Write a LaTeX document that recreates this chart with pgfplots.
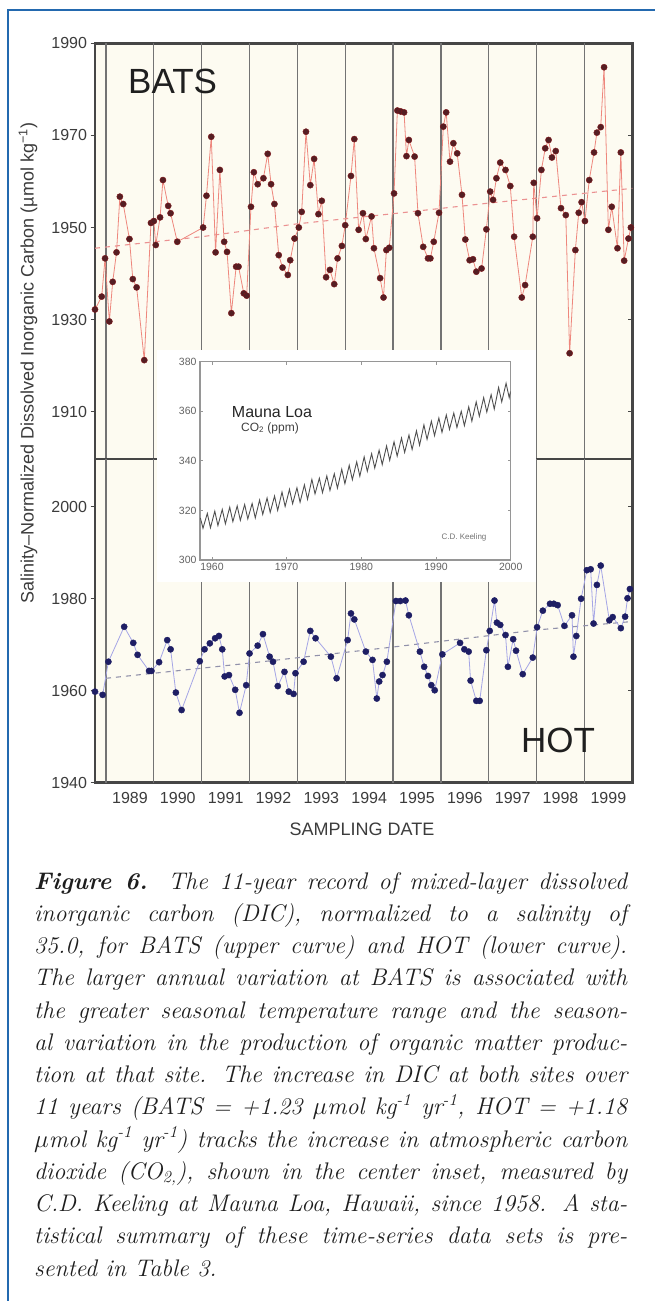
\documentclass[border=0pt]{standalone}
\usepackage{pgfplots}
\pgfplotsset{compat=1.18}
\usepackage{fontspec}
\setsansfont{Liberation Sans}
\definecolor{framecol}{RGB}{70,70,70}
\definecolor{yearline}{RGB}{115,115,115}
\definecolor{cream}{RGB}{253,251,241}
\definecolor{labcol}{RGB}{60,60,60}
\definecolor{borderblue}{RGB}{35,105,175}
\definecolor{batsdot}{RGB}{85,30,35}
\definecolor{batsline}{RGB}{238,135,125}
\definecolor{batstrend}{RGB}{235,145,145}
\definecolor{hotdot}{RGB}{30,30,100}
\definecolor{hotline}{RGB}{165,165,230}
\definecolor{hottrend}{RGB}{145,145,170}
\definecolor{insetgrey}{RGB}{150,150,150}
\definecolor{co2col}{RGB}{80,80,80}
\definecolor{captext}{RGB}{30,30,30}

\pgfplotsset{
  mainax/.style={
    scale only axis, width=537.3pt, xmin=1988.77, xmax=2000,
    axis line style={draw=framecol, line width=2.5pt},
    axis background/.style={fill=cream},
    tick align=outside, ytick pos=left, xtick pos=bottom, major tick length=4.5pt,
    tick style={draw=framecol, line width=1.2pt},
    major x tick style=transparent,
    yticklabel style={font=\sffamily\fontsize{16}{16}\selectfont, text=labcol},
    xticklabel style={font=\sffamily\fontsize{16}{16}\selectfont, text=labcol, yshift=-2pt},
  },
}
\tikzset{yearlines/.style={draw=yearline, line width=1.3pt}}

\newcommand{\caprow}[2]{\node[anchor=base west, inner sep=0pt, text=captext] at (34pt,-#1pt) {\fontsize{24}{24}\selectfont\itshape\makebox[593pt][s]{#2}};}

\begin{document}
\begin{tikzpicture}
\path[use as bounding box, fill=white] (0pt,0pt) rectangle (654pt,-1301pt);
\draw[borderblue, line width=2.5pt] (8pt,-1302pt) -- (8pt,-10pt) -- (655pt,-10pt);

% ---------------- BATS (upper) ----------------
\begin{axis}[mainax, at={(95pt,-459pt)}, anchor=south west,
  height=415.7pt, ymin=1899.73, ymax=1990,
  ytick={1910,1930,1950,1970,1990}, yticklabels={1910,1930,1950,1970,1990},
  xtick=\empty]
\pgfplotsinvokeforeach{1989,...,1999}{\draw[yearlines] (axis cs:#1,1899.73) -- (axis cs:#1,1990);}
\addplot[batstrend, line width=1.1pt, dash pattern=on 5pt off 5pt] coordinates {
(1988.77,1945.5) (1991,1948.0) (1993,1950.8) (1995,1953.0) (1997,1955.3) (2000,1958.5)};
\addplot[batsline, line width=0.8pt, mark=*, mark size=3.1pt,
  mark options={fill=batsdot, draw=batsdot!75!red, line width=0.4pt, solid}] coordinates {
(1988.77,1932.2) (1988.91,1935.0) (1988.98,1943.3) (1989.07,1929.6) (1989.14,1938.2)
(1989.22,1944.6) (1989.29,1956.7) (1989.36,1955.1) (1989.49,1947.5) (1989.56,1938.8)
(1989.64,1937.0) (1989.80,1921.2) (1989.94,1951.0) (1990.00,1951.4) (1990.04,1946.2)
(1990.13,1952.2) (1990.19,1960.3) (1990.30,1954.7) (1990.35,1953.1) (1990.49,1946.9)
(1991.03,1950.0) (1991.10,1956.9) (1991.20,1969.7) (1991.29,1944.6) (1991.38,1962.5)
(1991.47,1946.9) (1991.53,1944.7) (1991.62,1931.4) (1991.72,1941.5) (1991.77,1941.5)
(1991.88,1935.7) (1991.94,1935.2) (1992.03,1954.5) (1992.09,1962.0) (1992.17,1959.4)
(1992.29,1960.7) (1992.38,1966.0) (1992.45,1959.4) (1992.52,1955.1) (1992.61,1944.0)
(1992.69,1941.3) (1992.80,1939.7) (1992.85,1942.9) (1992.94,1947.6) (1993.03,1950.0)
(1993.09,1953.4) (1993.18,1970.8) (1993.27,1959.2) (1993.35,1964.9) (1993.44,1952.9)
(1993.51,1955.8) (1993.60,1939.2) (1993.68,1940.8) (1993.77,1937.7) (1993.84,1943.3)
(1993.93,1946.0) (1994.00,1950.5) (1994.12,1961.2) (1994.19,1969.2) (1994.28,1949.5)
(1994.37,1953.1) (1994.43,1947.5) (1994.55,1952.4) (1994.60,1945.5) (1994.73,1939.0)
(1994.80,1934.8) (1994.86,1945.1) (1994.92,1945.6) (1995.02,1957.4) (1995.09,1975.4)
(1995.16,1975.2) (1995.23,1975.0) (1995.28,1965.5) (1995.33,1969.0) (1995.45,1965.4)
(1995.52,1953.1) (1995.63,1945.8) (1995.73,1943.3) (1995.78,1943.3) (1995.85,1946.9)
(1995.96,1953.2) (1996.05,1971.9) (1996.11,1975.0) (1996.19,1964.3) (1996.26,1968.3)
(1996.34,1966.1) (1996.44,1957.1) (1996.51,1947.4) (1996.60,1942.9) (1996.67,1943.1)
(1996.74,1940.4) (1996.85,1941.1) (1996.95,1949.6) (1997.03,1957.8) (1997.09,1956.0)
(1997.16,1960.7) (1997.24,1964.1) (1997.35,1962.5) (1997.45,1959.0) (1997.53,1948.0)
(1997.69,1934.8) (1997.76,1937.5) (1997.92,1948.0) (1997.94,1959.7) (1998.01,1952.0)
(1998.10,1962.5) (1998.18,1967.2) (1998.25,1969.0) (1998.32,1965.2) (1998.40,1966.6)
(1998.51,1954.2) (1998.61,1952.7) (1998.69,1922.7) (1998.81,1945.1) (1998.88,1953.2)
(1998.94,1955.5) (1999.01,1951.4) (1999.10,1960.3) (1999.20,1966.3) (1999.26,1970.6)
(1999.34,1971.8) (1999.41,1984.8) (1999.50,1949.5) (1999.57,1954.5) (1999.69,1945.5)
(1999.76,1966.3) (1999.83,1942.8) (1999.92,1947.6) (1999.97,1950.0)};
\pgfplotsinvokeforeach{1910,1930,1950,1970}{\draw[framecol, line width=1.2pt] (axis cs:2000,#1) -- ++(-4.5pt,0pt);}
\end{axis}

% ---------------- HOT (lower) ----------------
\begin{axis}[mainax, at={(95pt,-782.7pt)}, anchor=south west,
  height=323.7pt, ymin=1940, ymax=2010.37,
  ytick={1940,1960,1980,2000}, yticklabels={1940,1960,1980,2000},
  xtick={1989.5,1990.5,1991.5,1992.5,1993.5,1994.5,1995.5,1996.5,1997.5,1998.5,1999.5},
  xticklabels={1989,1990,1991,1992,1993,1994,1995,1996,1997,1998,1999}]
\pgfplotsinvokeforeach{1989,...,1999}{\draw[yearlines] (axis cs:#1,1940) -- (axis cs:#1,2010.37);}
\addplot[hottrend, line width=1.1pt, dash pattern=on 5pt off 5pt] coordinates {
(1989.0,1962.7) (1992,1966.0) (1995,1969.5) (1998,1973.2) (1999.95,1975.0)};
\addplot[hotline, line width=0.8pt, mark=*, mark size=3.1pt,
  mark options={fill=hotdot, draw=hotdot, line width=0.4pt, solid}] coordinates {
(1988.77,1959.8) (1988.93,1959.1) (1989.05,1966.3) (1989.38,1973.9) (1989.57,1970.4)
(1989.66,1967.8) (1989.90,1964.3) (1989.95,1964.3) (1990.11,1966.2) (1990.28,1971.0)
(1990.35,1969.0) (1990.46,1959.6) (1990.58,1955.8) (1990.96,1966.4) (1991.06,1969.0)
(1991.17,1970.3) (1991.28,1971.4) (1991.36,1971.9) (1991.43,1969.0) (1991.48,1963.1)
(1991.57,1963.4) (1991.70,1960.2) (1991.79,1955.2) (1991.93,1961.2) (1992.00,1968.1)
(1992.17,1969.8) (1992.28,1972.3) (1992.42,1967.4) (1992.49,1966.3) (1992.59,1961.0)
(1992.73,1964.1) (1992.82,1959.8) (1992.92,1959.3) (1992.96,1963.8) (1993.13,1966.3)
(1993.27,1973.0) (1993.38,1971.4) (1993.70,1967.4) (1993.82,1962.7) (1994.05,1971.0)
(1994.12,1976.8) (1994.19,1975.5) (1994.43,1968.5) (1994.57,1966.7) (1994.66,1958.3)
(1994.71,1962.0) (1994.78,1963.4) (1994.87,1966.3) (1995.06,1979.5) (1995.15,1979.5)
(1995.26,1979.6) (1995.33,1976.4) (1995.56,1968.5) (1995.65,1965.2) (1995.73,1963.2)
(1995.80,1961.2) (1995.87,1960.1) (1996.03,1967.9) (1996.40,1970.4) (1996.49,1969.0)
(1996.58,1968.5) (1996.62,1962.2) (1996.74,1957.8) (1996.81,1957.8) (1996.95,1968.8)
(1997.02,1973.0) (1997.12,1979.6) (1997.17,1974.8) (1997.24,1974.3) (1997.35,1972.1)
(1997.40,1965.2) (1997.51,1971.2) (1997.57,1968.7) (1997.71,1963.6) (1997.92,1967.2)
(1998.01,1973.8) (1998.13,1977.4) (1998.28,1978.9) (1998.36,1978.9) (1998.44,1978.6)
(1998.58,1974.1) (1998.74,1976.4) (1998.77,1967.4) (1998.83,1971.9) (1998.93,1980.0)
(1999.05,1986.2) (1999.13,1986.4) (1999.19,1974.6) (1999.26,1983.0) (1999.34,1987.2)
(1999.52,1975.3) (1999.59,1976.0) (1999.76,1973.6) (1999.85,1976.1) (1999.90,1980.1)
(1999.95,1982.1)};
\pgfplotsinvokeforeach{1960,1980,2000}{\draw[framecol, line width=1.2pt] (axis cs:2000,#1) -- ++(-4.5pt,0pt);}
\end{axis}

% ---------------- inset ----------------
\fill[white] (157pt,-350pt) rectangle (536pt,-582pt);
\begin{axis}[at={(200pt,-560pt)}, anchor=south west, scale only axis,
  width=310.7pt, height=198.3pt, xmin=1958.4, xmax=2000, ymin=300, ymax=380,
  axis line style={draw=insetgrey, line width=1.2pt},
  xtick={1960,1970,1980,1990,2000}, ytick={300,320,340,360,380},
  xticklabels={1960,1970,1980,1990,2000}, yticklabels={300,320,340,360,380},
  tick align=inside, major tick length=3pt, tick style={draw=insetgrey, line width=0.8pt},
  ticklabel style={font=\sffamily\fontsize{10.5}{10.5}\selectfont, text=labcol!80}]
\addplot[co2col, line width=0.9pt] coordinates {
(1958.45,317.0) (1958.80,312.8)
(1959.38,318.8) (1959.80,313.0) (1960.38,319.7) (1960.80,313.9) (1961.38,320.4) (1961.80,314.6)
(1962.38,321.3) (1962.80,315.5) (1963.38,321.8) (1963.80,316.0) (1964.38,322.4) (1964.80,316.6)
(1965.38,322.8) (1965.80,317.0) (1966.38,324.2) (1966.80,318.4) (1967.38,325.0) (1967.80,319.2)
(1968.38,325.8) (1968.80,320.0) (1969.38,327.4) (1969.80,321.6) (1970.38,328.5) (1970.80,322.7)
(1971.38,329.1) (1971.80,323.3) (1972.38,330.3) (1972.80,324.5) (1973.38,332.5) (1973.80,326.7)
(1974.38,333.0) (1974.80,327.2) (1975.38,333.9) (1975.80,328.1) (1976.38,334.8) (1976.80,329.0)
(1977.38,336.6) (1977.80,330.8) (1978.38,338.2) (1978.80,332.4) (1979.38,339.6) (1979.80,333.8)
(1980.38,341.6) (1980.80,335.8) (1981.38,342.9) (1981.80,337.1) (1982.38,344.3) (1982.80,338.5)
(1983.38,346.0) (1983.80,340.2) (1984.38,347.7) (1984.80,341.9) (1985.38,349.2) (1985.80,343.4)
(1986.38,350.4) (1986.80,344.6) (1987.38,352.1) (1987.80,346.3) (1988.38,354.5) (1988.80,348.7)
(1989.38,356.0) (1989.80,350.2) (1990.38,357.3) (1990.80,351.5) (1991.38,358.5) (1991.80,352.7)
(1992.38,359.3) (1992.80,353.5) (1993.38,360.0) (1993.80,354.2) (1994.38,361.8) (1994.80,356.0)
(1995.38,363.8) (1995.80,358.0) (1996.38,365.5) (1996.80,359.7) (1997.38,366.7) (1997.80,360.9)
(1998.38,369.6) (1998.80,363.8) (1999.38,371.3) (1999.80,365.5) (1999.98,368.0)};
\end{axis}
\node[anchor=center, inner sep=0pt, text=black!85] at (272pt,-412pt) {\sffamily\fontsize{16}{16}\selectfont Mauna Loa};
\node[anchor=center, inner sep=0pt, text=black!75] at (270pt,-428pt) {\sffamily\fontsize{12}{12}\selectfont CO\textsubscript{2} (ppm)};
\node[anchor=center, inner sep=0pt, text=black!55] at (464pt,-537pt) {\sffamily\fontsize{8}{8}\selectfont C.D. Keeling};

% ---------------- labels ----------------
\node[anchor=base west, inner sep=0pt, text=black!88] at (128pt,-93.3pt) {\sffamily\fontsize{35}{35}\selectfont BATS};
\node[anchor=base west, inner sep=0pt, text=black!88] at (521pt,-752pt) {\sffamily\fontsize{35}{35}\selectfont HOT};
\node[rotate=90, anchor=center, inner sep=0pt, text=labcol] at (28pt,-363pt) {\sffamily\fontsize{18}{18}\selectfont Salinity–Normalized Dissolved Inorganic Carbon (µmol kg\textsuperscript{−1})};
\node[anchor=center, inner sep=0pt, text=labcol] at (362pt,-829pt) {\sffamily\fontsize{18}{18}\selectfont SAMPLING DATE};

% ---------------- caption ----------------
\caprow{889}{\textbf{Figure 6.} The 11-year record of mixed-layer dissolved}
\caprow{921.25}{inorganic carbon (DIC), normalized to a salinity of}
\caprow{953.5}{35.0, for BATS (upper curve) and HOT (lower curve).}
\caprow{985.75}{The larger annual variation at BATS is associated with}
\caprow{1018}{the greater seasonal temperature range and the season-}
\caprow{1050.25}{al variation in the production of organic matter produc-}
\caprow{1082.5}{tion at that site. The increase in DIC at both sites over}
\caprow{1114.75}{11 years (BATS = +1.23 $\mu$mol kg\textsuperscript{-1} yr\textsuperscript{-1}, HOT = +1.18}
\caprow{1147}{$\mu$mol kg\textsuperscript{-1} yr\textsuperscript{-1}) tracks the increase in atmospheric carbon}
\caprow{1179.25}{dioxide (CO\textsubscript{2,}), shown in the center inset, measured by}
\caprow{1211.5}{C.D. Keeling at Mauna Loa, Hawaii, since 1958. A sta-}
\caprow{1243.75}{tistical summary of these time-series data sets is pre-}
\node[anchor=base west, inner sep=0pt, text=captext] at (34pt,-1276pt) {\fontsize{24}{24}\selectfont\itshape sented in Table 3.};
\end{tikzpicture}
\end{document}
